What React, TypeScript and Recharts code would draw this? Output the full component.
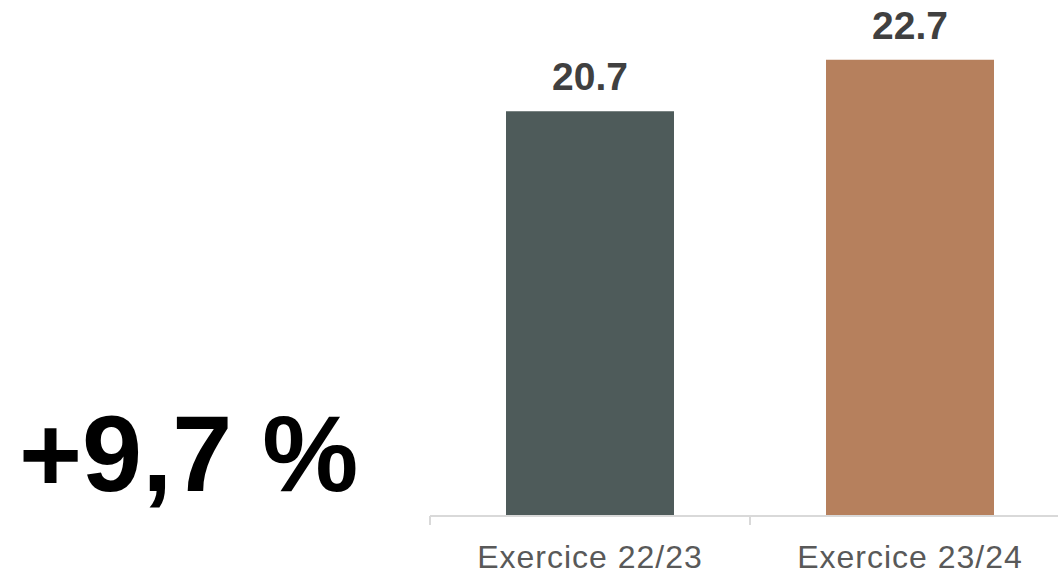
import React from "react";
import { BarChart, Bar, XAxis, YAxis, LabelList, Cell } from "recharts";

const categories = ["Exercice 22/23", "Exercice 23/24"];
const values = [20.7, 22.7];
const barColors = ["#4e5b5a", "#b6805d"];
const growthLabel = "+9,7 %";
const yDomain: [number, number] = [5, 23];

const data = categories.map((name, i) => ({ name, value: values[i] }));

const CHART_W = 1100;
const CHART_H = 574;
const MARGIN = { top: 52, right: 30, left: 430, bottom: 0 };
const BAND = (CHART_W - MARGIN.left - MARGIN.right) / categories.length;

function CategoryTick(props: any) {
  const { x, y, payload, index } = props;
  const left = x - BAND / 2;
  return (
    <g>
      <line x1={left} y1={y - 8} x2={left} y2={y + 1} stroke="#d9d9d9" strokeWidth={2} />
      {index === categories.length - 1 && (
        <line x1={left + BAND} y1={y - 8} x2={left + BAND} y2={y + 1} stroke="#d9d9d9" strokeWidth={2} />
      )}
      <text
        x={x}
        y={y + 44}
        textAnchor="middle"
        fill="#595959"
        fontSize={32}
        letterSpacing={1}
        fontFamily="'Liberation Sans', Arial, sans-serif"
      >
        {payload.value}
      </text>
    </g>
  );
}

export default function App() {
  return (
    <div
      style={{
        position: "absolute",
        left: 0,
        top: 0,
        width: 1058,
        height: 574,
        overflow: "hidden",
        background: "#ffffff",
      }}
    >
      <BarChart width={CHART_W} height={CHART_H} data={data} margin={MARGIN} barCategoryGap="23.75%">
        <XAxis
          dataKey="name"
          height={58}
          axisLine={{ stroke: "#d9d9d9", strokeWidth: 2 }}
          tickLine={false}
          tick={<CategoryTick />}
          interval={0}
        />
        <YAxis hide domain={yDomain} allowDataOverflow type="number" />
        <Bar dataKey="value" isAnimationActive={false}>
          {data.map((d, i) => (
            <Cell key={d.name} fill={barColors[i]} />
          ))}
          <LabelList
            dataKey="value"
            position="top"
            offset={21}
            fill="#404040"
            fontSize={39}
            fontWeight="bold"
            fontFamily="'Liberation Sans', Arial, sans-serif"
            formatter={(v: any) => Number(v).toFixed(1)}
          />
        </Bar>
      </BarChart>
      <svg
        width={420}
        height={574}
        style={{ position: "absolute", left: 0, top: 0 }}
      >
        <text
          x={19}
          y={491}
          fontSize={108}
          fontWeight="bold"
          fill="#000000"
          fontFamily="'Liberation Sans', Arial, sans-serif"
        >
          {growthLabel}
        </text>
      </svg>
    </div>
  );
}
